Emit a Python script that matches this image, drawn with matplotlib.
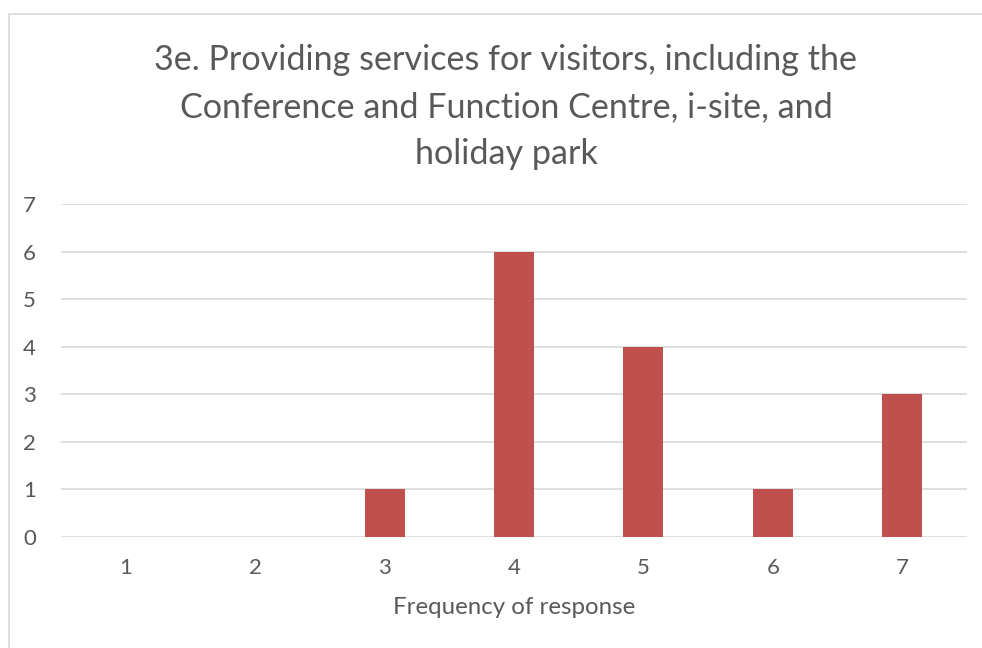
import numpy as np
import matplotlib.pyplot as plt
from matplotlib.patches import Rectangle

categories = ['1', '2', '3', '4', '5', '6', '7']
counts = [0, 0, 1, 6, 4, 1, 3]
y_ticks = [0, 1, 2, 3, 4, 5, 6, 7]

title = ("3e. Providing services for visitors, including the\n"
         "Conference and Function Centre, i-site, and\n"
         "holiday park")

plt.rcParams['font.family'] = ['Lato', 'DejaVu Sans']
txt_col = '#595959'

fig = plt.figure(figsize=(9.82, 6.48), dpi=100)
W, H = 982, 648

# chart border (left and top visible)
fig.patches.append(Rectangle((9 / W, -0.1), 1.2, (648 - 14) / H + 0.1,
                             transform=fig.transFigure, fill=False,
                             edgecolor='#D9D9D9', lw=1.2))

ax = fig.add_axes([61 / W, (H - 537) / H, (967 - 61) / W, (537 - 204) / H])
x = np.arange(1, len(categories) + 1)
ax.bar(x, counts, width=0.31, color='#C0504D', zorder=3)

ax.set_xlim(0.5, 7.5)
ax.set_ylim(0, 7)
ax.set_yticks(y_ticks)
ax.set_xticks(x)
ax.set_xticklabels(categories)
ax.yaxis.grid(True, color='#D9D9D9', lw=1.2, zorder=0)
ax.set_axisbelow(True)
for s in ax.spines.values():
    s.set_visible(False)
ax.tick_params(length=0, labelsize=16, colors=txt_col)
ax.tick_params(axis='y', pad=18)
ax.tick_params(axis='x', pad=15)
ax.set_xlabel('Frequency of response', fontsize=17.3, color=txt_col, labelpad=14)

fig.text(506 / W, 1 - 107 / H, title, ha='center', va='center',
         fontsize=24.6, color=txt_col, linespacing=1.58)

fig.savefig('out.png', dpi=100)
